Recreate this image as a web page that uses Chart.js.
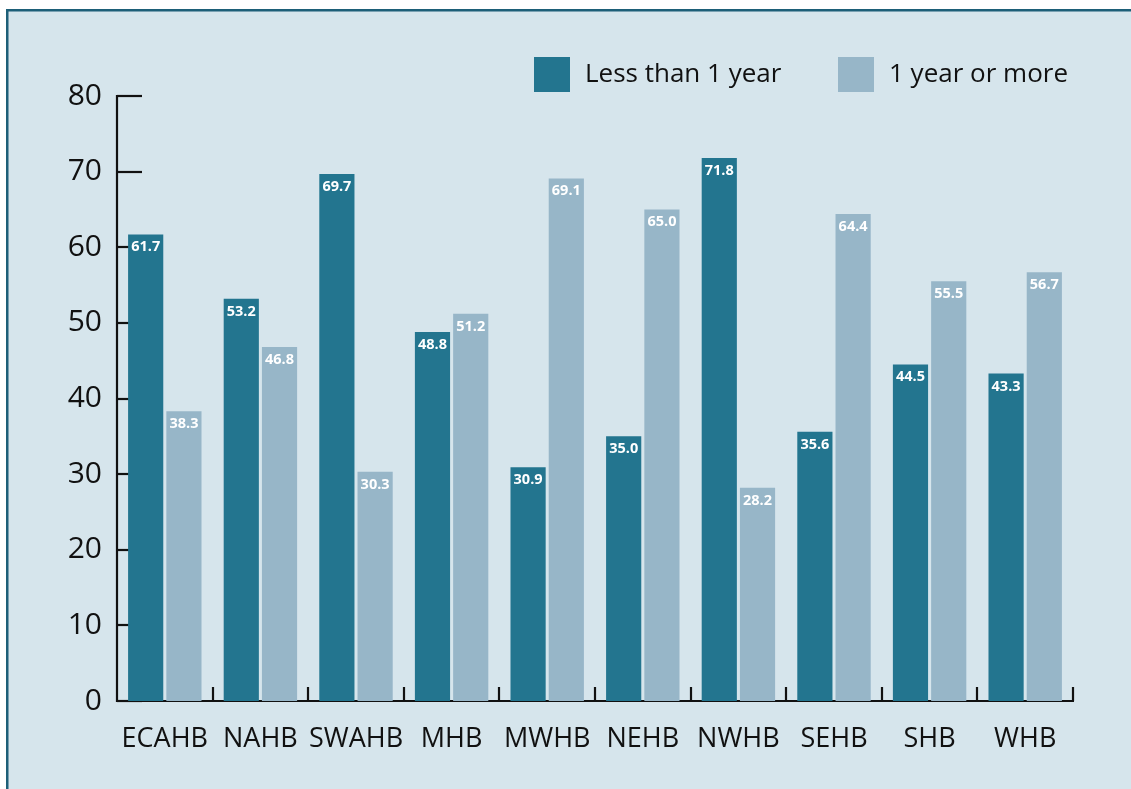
<!DOCTYPE html>
<html>
<head>
<meta charset="utf-8">
<script src="https://cdn.jsdelivr.net/npm/chart.js@4.4.1/dist/chart.umd.min.js"></script>
<style>
html,body{margin:0;padding:0;background:#ffffff;}
#wrap{width:1131px;height:789px;position:relative;}
</style>
</head>
<body>
<div id="wrap"><canvas id="c" width="1131" height="789"></canvas></div>
<script>
const categories = ['ECAHB','NAHB','SWAHB','MHB','MWHB','NEHB','NWHB','SEHB','SHB','WHB'];
const lessThanOneYear = [61.7, 53.2, 69.7, 48.8, 30.9, 35.0, 71.8, 35.6, 44.5, 43.3];
const oneYearOrMore = [38.3, 46.8, 30.3, 51.2, 69.1, 65.0, 28.2, 64.4, 55.5, 56.7];
const seriesNames = ['Less than 1 year', '1 year or more'];
const yTicks = [0, 10, 20, 30, 40, 50, 60, 70, 80];

const DARK = '#23758f';
const LIGHT = '#97b6c8';
const BG = '#d6e5ec';
const FRAME = '#1d5f78';
const FONT = '"Open Sans", "DejaVu Sans", sans-serif';

const framePlugin = {
  id: 'frame',
  beforeDraw(chart) {
    const ctx = chart.ctx;
    ctx.save();
    ctx.fillStyle = '#ffffff';
    ctx.fillRect(0, 0, chart.width, chart.height);
    ctx.fillStyle = BG;
    ctx.fillRect(7, 10, chart.width - 7, chart.height - 10);
    ctx.strokeStyle = FRAME;
    ctx.lineWidth = 2.5;
    ctx.beginPath();
    ctx.moveTo(7.25, chart.height + 5);
    ctx.lineTo(7.25, 10.25);
    ctx.lineTo(chart.width + 5, 10.25);
    ctx.stroke();
    ctx.restore();
  }
};

const axesPlugin = {
  id: 'axesDraw',
  beforeDatasetsDraw(chart) {
    const ctx = chart.ctx;
    const ca = chart.chartArea;
    const y = chart.scales.y, x = chart.scales.x;
    ctx.save();
    ctx.strokeStyle = '#111111';
    ctx.lineWidth = 2.2;
    ctx.lineCap = 'butt';
    ctx.beginPath();
    ctx.moveTo(ca.left, y.getPixelForValue(80) - 1);
    ctx.lineTo(ca.left, y.getPixelForValue(0) + 1);
    ctx.stroke();
    yTicks.forEach(v => {
      const py = Math.round(y.getPixelForValue(v));
      ctx.beginPath();
      ctx.moveTo(ca.left, py);
      ctx.lineTo(ca.left + 25, py);
      ctx.stroke();
    });
    const y0 = y.getPixelForValue(0);
    ctx.beginPath();
    ctx.moveTo(ca.left, y0);
    ctx.lineTo(ca.right + 1, y0);
    ctx.stroke();
    const half = (x.getPixelForValue(1) - x.getPixelForValue(0)) / 2;
    for (let i = 0; i < categories.length; i++) {
      const px = Math.round(x.getPixelForValue(i) + half);
      ctx.beginPath();
      ctx.moveTo(px, y0);
      ctx.lineTo(px, y0 - 14);
      ctx.stroke();
    }
    ctx.restore();
  },
  afterDatasetsDraw(chart) {
    const ctx = chart.ctx;
    ctx.save();
    ctx.fillStyle = '#ffffff';
    ctx.font = 'bold 14.5px ' + FONT;
    ctx.textAlign = 'center';
    ctx.textBaseline = 'alphabetic';
    chart.data.datasets.forEach((ds, di) => {
      const meta = chart.getDatasetMeta(di);
      meta.data.forEach((bar, i) => {
        ctx.fillText(ds.data[i].toFixed(1), bar.x, bar.y + 17);
      });
    });
    const items = [
      {label: seriesNames[0], color: DARK, x: 534},
      {label: seriesNames[1], color: LIGHT, x: 838}
    ];
    ctx.font = '26px ' + FONT;
    ctx.textAlign = 'left';
    ctx.textBaseline = 'middle';
    items.forEach(it => {
      ctx.fillStyle = it.color;
      ctx.fillRect(it.x, 57, 36, 35);
      ctx.fillStyle = '#111111';
      ctx.fillText(it.label, it.x + 51, 75);
    });
    ctx.restore();
  }
};

new Chart(document.getElementById('c'), {
  type: 'bar',
  data: {
    labels: categories,
    datasets: [
      {label: seriesNames[0], data: lessThanOneYear, backgroundColor: DARK, borderWidth: 0, barPercentage: 0.92, categoryPercentage: 0.8},
      {label: seriesNames[1], data: oneYearOrMore, backgroundColor: LIGHT, borderWidth: 0, barPercentage: 0.92, categoryPercentage: 0.8}
    ]
  },
  options: {
    responsive: false,
    animation: false,
    devicePixelRatio: 1,
    layout: {padding: {top: 96, right: 58, bottom: 0, left: 0}},
    plugins: {legend: {display: false}, tooltip: {enabled: false}},
    scales: {
      x: {
        grid: {display: false, drawTicks: false},
        border: {display: false},
        ticks: {color: '#111111', font: {family: FONT, size: 27}, padding: 22, maxRotation: 0, autoSkip: false},
        afterFit(s) { s.height = 88; }
      },
      y: {
        min: 0, max: 80,
        afterBuildTicks(s) { s.ticks = yTicks.map(v => ({value: v})); },
        grid: {display: false, drawTicks: false},
        border: {display: false},
        ticks: {color: '#111111', font: {family: FONT, size: 30}, padding: 15},
        afterFit(s) { s.width = 117; }
      }
    }
  },
  plugins: [framePlugin, axesPlugin]
});
</script>
</body>
</html>
